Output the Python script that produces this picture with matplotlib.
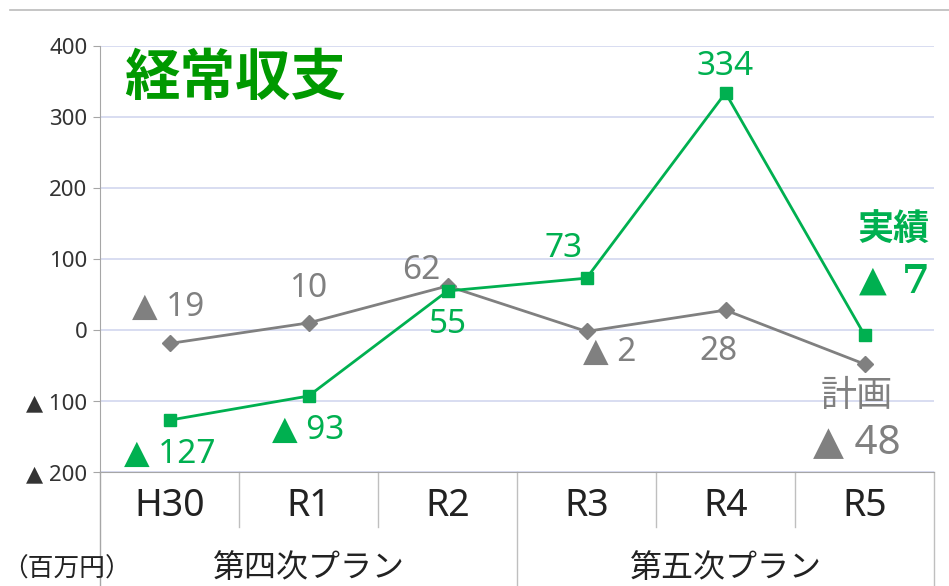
import numpy as np
import matplotlib
matplotlib.use("Agg")
from matplotlib import pyplot as plt
from matplotlib.lines import Line2D

plt.rcParams['font.family'] = ['Noto Sans', 'DejaVu Sans', 'Noto Sans CJK JP']

years = ["H30", "R1", "R2", "R3", "R4", "R5"]
actual = [-127, -93, 55, 73, 334, -7]
plan = [-19, 10, 62, -2, 28, -48]
groups = ["第四次プラン", "第五次プラン"]
group_spans = [(0, 2), (3, 5)]
yticks = [400, 300, 200, 100, 0, -100, -200]


def fmt(v):
    return f"▲ {abs(v)}" if v < 0 else f"{v}"


GREEN = "#00B050"
GRAY = "#808080"
LINE = "#A6A6A6"

fig = plt.figure(figsize=(9.49, 5.86), dpi=100)
ax = fig.add_axes([100 / 949, 1 - 472 / 586, 834 / 949, 426 / 586])

x = np.arange(len(years))
ax.plot(x, plan, color=GRAY, lw=2, marker="D", ms=8, zorder=3)
ax.plot(x, actual, color=GREEN, lw=2, marker="s", ms=9, zorder=4)

ax.set_xlim(-0.5, 5.5)
ax.set_ylim(-200, 400)
ax.set_yticks(yticks)
ax.set_yticklabels([fmt(v) for v in yticks], fontsize=16, color="#333333")
ax.set_xticks([])
ax.grid(axis="y", color="#D5DAF0", lw=1.3)
ax.set_axisbelow(True)
for s in ["top", "right"]:
    ax.spines[s].set_visible(False)
ax.spines["left"].set_color(LINE)
ax.spines["bottom"].set_color(LINE)
ax.tick_params(axis="y", length=5, color=LINE, pad=4)

# data labels (offsets in points)
act_off = [(0, -25), (0, -25), (0, -24.5), (-16.5, 21.5), (0, 19), None]
plan_off = [(-1, 26), (0, 25), (-19, 11.5), (17, -15), (-5, -29.5), None]
for i, (v, o) in enumerate(zip(actual, act_off)):
    if o:
        ax.annotate(fmt(v), (i, v), xytext=o, textcoords="offset points",
                    ha="center", va="center", fontsize=24, color=GREEN)
for i, (v, o) in enumerate(zip(plan, plan_off)):
    if o:
        ax.annotate(fmt(v), (i, v), xytext=o, textcoords="offset points",
                    ha="center", va="center", fontsize=24, color=GRAY)

# series labels at the right
ax.text(5.47, 138, "実績", ha="right", va="center", fontsize=26,
        color=GREEN, fontweight="bold")
ax.text(5.06, 68, "▲", ha="center", va="center", fontsize=26, color=GREEN)
ax.text(5.47, 68, "7", ha="right", va="center", fontsize=29, color=GREEN,
        fontweight="bold", family="DejaVu Serif")
ax.text(4.946, -94, "計画", ha="center", va="center", fontsize=26, color=GRAY)
ax.text(4.946, -159, "▲ 48", ha="center", va="center", fontsize=29, color=GRAY)

# title
ax.text(0.162, 0.92, "経常収支", transform=ax.transAxes, ha="center",
        va="center", fontsize=40, color="#009900", fontweight="bold")

# category table below the axis
tr = ax.get_xaxis_transform()
y_row = -55 / 426
y_bot = -114 / 426
for b in [0.5, 1.5, 3.5, 4.5]:
    ax.add_line(Line2D([b, b], [0, y_row], transform=tr, color="#BFBFBF",
                       lw=1, clip_on=False))
for b in [2.5, 5.5]:
    ax.add_line(Line2D([b, b], [0, y_bot], transform=tr, color="#BFBFBF",
                       lw=1, clip_on=False))
ax.add_line(Line2D([-0.5, -0.5], [0, y_bot], transform=tr, color=LINE,
                   lw=1, clip_on=False))
for i, lab in enumerate(years):
    ax.text(i, -34 / 426, lab, transform=tr, ha="center", va="center",
            fontsize=27, color="#222222")
for g, (a, b) in zip(groups, group_spans):
    ax.text((a + b) / 2, -96 / 426, g, transform=tr, ha="center",
            va="center", fontsize=23, color="#222222")

fig.text(2 / 949, 1 - 570 / 586, "（百万円）", ha="left", va="center",
         fontsize=18.5, color="#222222", family="Noto Sans CJK JP")
fig.add_artist(Line2D([10 / 949, 1], [1 - 10 / 586, 1 - 10 / 586],
                      color="#BBBBBB", lw=1.2))

fig.savefig("out.png", dpi=100)
